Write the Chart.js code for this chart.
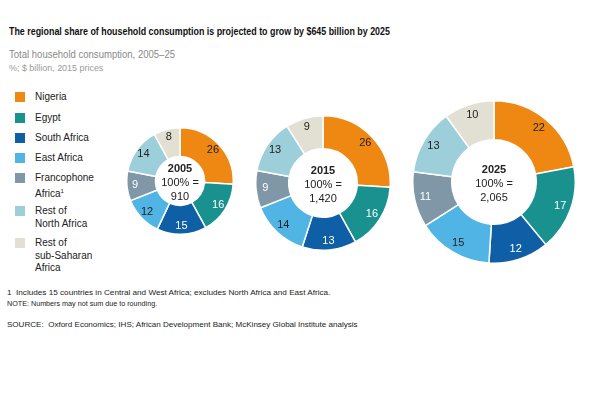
<!DOCTYPE html>
<html>
<head>
<meta charset="utf-8">
<script src="https://cdn.jsdelivr.net/npm/chart.js@4"></script>
<style>
  body { margin:0; background:#fff; font-family:"Liberation Sans", Arial, sans-serif; }
  #page { position:relative; width:605px; height:393px; overflow:hidden; }
  .t { position:absolute; white-space:nowrap; transform-origin:0 0; }
  #title { left:9px; top:25px; font-weight:bold; font-size:11px; color:#111; }
  #sub1 { left:9px; top:49px; font-size:10px; color:#8a8a8a; }
  #sub2 { left:9px; top:62px; font-size:9.5px; color:#9a9a9a; }
  .lg { position:absolute; left:15px; width:10px; height:10px; }
  .lt { position:absolute; left:35px; font-size:10px; line-height:12.5px; color:#222; }
  .fn { position:absolute; left:7px; font-size:8px; color:#222; white-space:nowrap; transform-origin:0 0; }
  canvas { position:absolute; }
</style>
</head>
<body>
<div id="page">
  <div class="t" id="title">The regional share of household consumption is projected to grow by $645 billion by 2025</div>
  <div class="t" id="sub1">Total household consumption, 2005–25</div>
  <div class="t" id="sub2">%; $ billion, 2015 prices</div>
  <div id="legend"></div>
  <div class="fn" id="fn1" style="top:288px">1&nbsp;&nbsp;Includes 15 countries in Central and West Africa; excludes North Africa and East Africa.</div>
  <div class="fn" id="fn2" style="top:299px">NOTE: Numbers may not sum due to rounding.</div>
  <div class="fn" id="fn3" style="top:320px">SOURCE:&nbsp; Oxford Economics; IHS; African Development Bank; McKinsey Global Institute analysis</div>
  <canvas id="c2005"></canvas>
  <canvas id="c2015"></canvas>
  <canvas id="c2025"></canvas>
</div>
<script>
var regions = ['Nigeria', 'Egypt', 'South Africa', 'East Africa', 'Francophone Africa¹', 'Rest of North Africa', 'Rest of sub-Saharan Africa'];
var legendLines = [['Nigeria'], ['Egypt'], ['South Africa'], ['East Africa'], ['Francophone', 'Africa<sup style="font-size:6px">1</sup>'], ['Rest of', 'North Africa'], ['Rest of', 'sub-Saharan', 'Africa']];
var years = ['2005', '2015', '2025'];
var totals = ['910', '1,420', '2,065'];
var share2005 = [26, 16, 15, 12, 9, 14, 8];
var share2015 = [26, 16, 13, 14, 9, 13, 9];
var share2025 = [22, 17, 12, 15, 11, 13, 10];

var colors = ['#ef8812', '#19928f', '#0f5fa6', '#50b4e4', '#7f97a7', '#9ccfda', '#e2e0d2'];
var labelColors = ['#222', '#fff', '#fff', '#222', '#fff', '#222', '#222'];

// squeeze text to the width it has in the picture (the original uses a narrow face)
function fit(id, w) {
  var el = document.getElementById(id);
  el.style.transform = 'scaleX(' + (w / el.offsetWidth) + ')';
}
fit('title', 381);
fit('sub1', 166);
fit('sub2', 94);
fit('fn1', 323);
fit('fn2', 150);
fit('fn3', 351);

// legend
var legendTop = [92, 113, 133, 153, 173, 206, 238];
var lg = document.getElementById('legend');
for (var i = 0; i < regions.length; i++) {
  var sq = document.createElement('div');
  sq.className = 'lg';
  sq.style.top = legendTop[i] + 'px';
  sq.style.background = colors[i];
  lg.appendChild(sq);
  var tx = document.createElement('div');
  tx.className = 'lt';
  tx.style.top = (legendTop[i] - 1) + 'px';
  tx.innerHTML = legendLines[i].join('<br>');
  lg.appendChild(tx);
}

var sliceLabels = {
  id: 'sliceLabels',
  afterDatasetsDraw: function (chart) {
    var ctx = chart.ctx;
    var meta = chart.getDatasetMeta(0);
    var data = chart.data.datasets[0].data;
    ctx.save();
    ctx.font = '11px "Liberation Sans", Arial, sans-serif';
    ctx.textAlign = 'center';
    ctx.textBaseline = 'middle';
    meta.data.forEach(function (arc, i) {
      var p = arc.getProps(['x', 'y', 'startAngle', 'endAngle', 'innerRadius', 'outerRadius']);
      var a = (p.startAngle + p.endAngle) / 2;
      var r = p.innerRadius + 0.72 * (p.outerRadius - p.innerRadius);
      ctx.fillStyle = labelColors[i];
      ctx.fillText(data[i], p.x + Math.cos(a) * r, p.y + Math.sin(a) * r);
    });
    // centre text
    var c = meta.data[0];
    var o = chart.options.plugins.sliceLabels;
    ctx.fillStyle = '#222';
    ctx.font = 'bold 11px "Liberation Sans", Arial, sans-serif';
    ctx.fillText(o.year, c.x, c.y - 12);
    ctx.font = '11px "Liberation Sans", Arial, sans-serif';
    ctx.fillText('100% =', c.x, c.y + 2);
    ctx.fillText(o.total, c.x, c.y + 16);
    ctx.restore();
  }
};

function donut(id, values, year, total, cx, cy, r, cut) {
  var cv = document.getElementById(id);
  var size = 2 * r + 2;
  cv.width = size;
  cv.height = size;
  cv.style.left = (cx - size / 2) + 'px';
  cv.style.top = (cy - size / 2) + 'px';
  new Chart(cv, {
    type: 'doughnut',
    data: {
      labels: regions,
      datasets: [{
        data: values,
        backgroundColor: colors,
        borderColor: '#fff',
        borderWidth: 1.5
      }]
    },
    options: {
      responsive: false,
      animation: false,
      cutout: cut,
      layout: { padding: 0 },
      plugins: {
        legend: { display: false },
        tooltip: { enabled: false },
        sliceLabels: { year: year, total: total }
      }
    },
    plugins: [sliceLabels]
  });
}

donut('c2005', share2005, years[0], totals[0], 180, 181, 53, '46%');
donut('c2015', share2015, years[1], totals[1], 323, 183, 67, '51%');
donut('c2025', share2025, years[2], totals[2], 494, 182, 81, '52%');
</script>
</body>
</html>
